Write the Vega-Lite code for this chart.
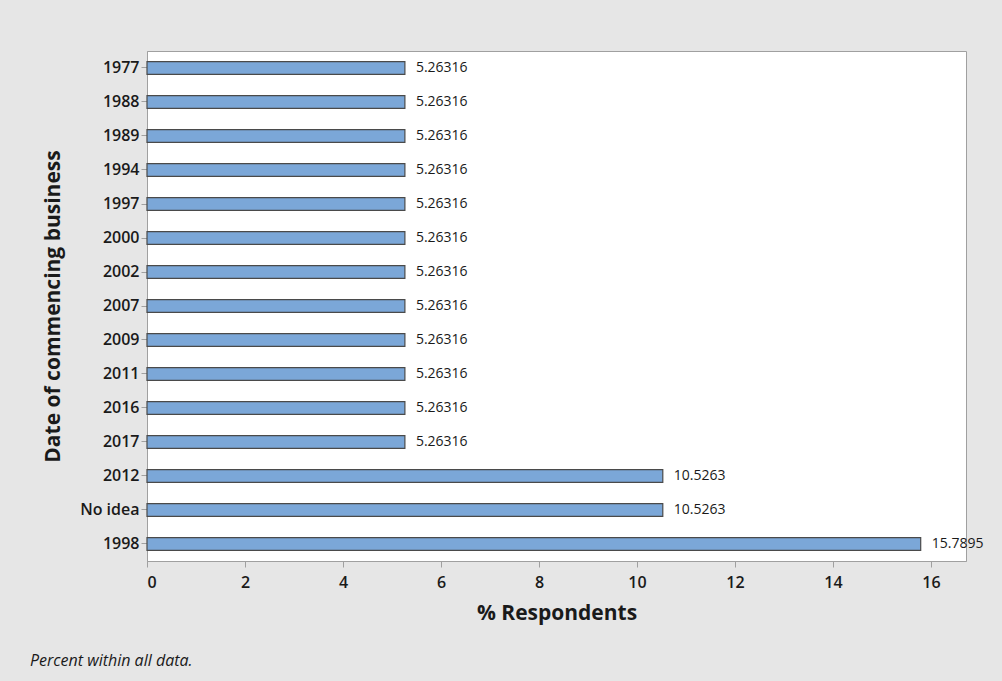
{
  "$schema": "https://vega.github.io/schema/vega-lite/v6.json",
  "autosize": {"type": "none"},
  "width": 819,
  "height": 510,
  "padding": {"left": 147, "top": 51, "right": 36, "bottom": 120},
  "background": "#e6e6e6",
  "config": {
    "view": {"fill": "white", "stroke": "#a0a0a0", "strokeWidth": 1},
    "font": "Open Sans"
  },
  "title": {
    "text": "Percent within all data.",
    "orient": "bottom",
    "anchor": "start",
    "frame": "group",
    "dx": -117,
    "offset": 30,
    "font": "Open Sans",
    "fontSize": 16,
    "fontStyle": "italic",
    "fontWeight": "normal",
    "color": "#1a1a1a"
  },
  "data": {
    "values": [
      {"year": "1977", "pct": 5.26316},
      {"year": "1988", "pct": 5.26316},
      {"year": "1989", "pct": 5.26316},
      {"year": "1994", "pct": 5.26316},
      {"year": "1997", "pct": 5.26316},
      {"year": "2000", "pct": 5.26316},
      {"year": "2002", "pct": 5.26316},
      {"year": "2007", "pct": 5.26316},
      {"year": "2009", "pct": 5.26316},
      {"year": "2011", "pct": 5.26316},
      {"year": "2016", "pct": 5.26316},
      {"year": "2017", "pct": 5.26316},
      {"year": "2012", "pct": 10.5263},
      {"year": "No idea", "pct": 10.5263},
      {"year": "1998", "pct": 15.7895}
    ]
  },
  "encoding": {
    "y": {
      "field": "year",
      "type": "nominal",
      "sort": null,
      "scale": {"paddingInner": 0.62, "paddingOuter": 0.31},
      "axis": {
        "title": "Date of commencing business",
        "titleFontSize": 21,
        "titleFontWeight": "bold",
        "titleColor": "#1a1a1a",
        "titlePadding": 16,
        "labelFontSize": 16,
        "labelFontWeight": 600,
        "labelColor": "#1a1a1a",
        "labelPadding": 2,
        "tickColor": "#a0a0a0",
        "tickSize": 6,
        "domainColor": "#a0a0a0"
      }
    },
    "x": {
      "field": "pct",
      "type": "quantitative",
      "scale": {"domain": [0, 16.714], "nice": false},
      "axis": {
        "title": "% Respondents",
        "values": [0, 2, 4, 6, 8, 10, 12, 14, 16],
        "grid": false,
        "titleFontSize": 21,
        "titleFontWeight": "bold",
        "titleColor": "#1a1a1a",
        "titlePadding": 12,
        "labelFontSize": 16,
        "labelFontWeight": 600,
        "labelColor": "#1a1a1a",
        "labelPadding": 7,
        "tickColor": "#a0a0a0",
        "tickSize": 6,
        "domainColor": "#a0a0a0"
      }
    }
  },
  "layer": [
    {
      "mark": {"type": "bar", "fill": "#7ba7d8", "stroke": "#4a4a4a", "strokeWidth": 1.2}
    },
    {
      "mark": {"type": "text", "align": "left", "dx": 11, "fontSize": 14, "color": "#1a1a1a", "font": "Open Sans"},
      "encoding": {"text": {"field": "pct", "type": "quantitative", "format": ".6"}}
    }
  ]
}
